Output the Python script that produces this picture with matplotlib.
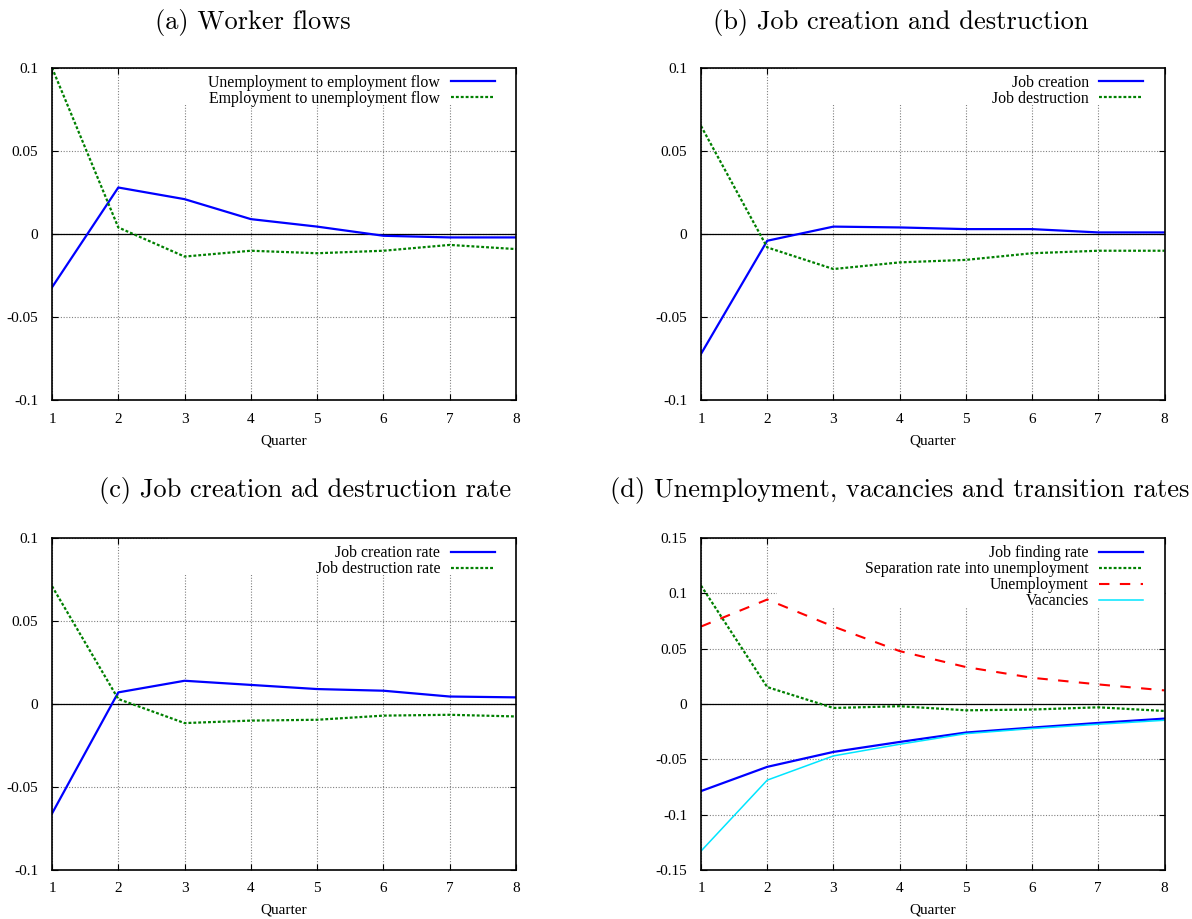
"""Impulse responses of labour-market flows, four panels in gnuplot style."""

import matplotlib

matplotlib.use("Agg")
import matplotlib.pyplot as plt
from matplotlib.patches import Rectangle
from matplotlib.ticker import FuncFormatter

plt.rcParams["axes.unicode_minus"] = False
plt.rcParams["font.family"] = "Liberation Serif"

quarters = [1, 2, 3, 4, 5, 6, 7, 8]

# (a) worker flows
ue_flow = [-0.032, 0.028, 0.021, 0.009, 0.0045, -0.001, -0.002, -0.002]
eu_flow = [0.100, 0.004, -0.0135, -0.010, -0.0115, -0.010, -0.0065, -0.009]

# (b) job creation and destruction
job_creation = [-0.072, -0.004, 0.0045, 0.004, 0.003, 0.003, 0.001, 0.001]
job_destruction = [0.065, -0.008, -0.021, -0.017, -0.0155, -0.0115, -0.010, -0.010]

# (c) job creation and destruction rates
jc_rate = [-0.066, 0.007, 0.014, 0.0115, 0.009, 0.008, 0.0045, 0.004]
jd_rate = [0.071, 0.003, -0.0115, -0.010, -0.0095, -0.007, -0.0065, -0.0075]

# (d) unemployment, vacancies and transition rates
finding_rate = [-0.0787, -0.0568, -0.0433, -0.0343, -0.0258, -0.0213, -0.0171, -0.0132]
separation_rate = [0.107, 0.0153, -0.0036, -0.002, -0.0057, -0.005, -0.003, -0.0063]
unemployment = [0.070, 0.0944, 0.070, 0.0478, 0.0334, 0.0237, 0.0177, 0.0123]
vacancies = [-0.1329, -0.0688, -0.0469, -0.0364, -0.0268, -0.0222, -0.0183, -0.0147]

yticks_small = [-0.1, -0.05, 0, 0.05, 0.1]
yticks_large = [-0.15, -0.1, -0.05, 0, 0.05, 0.1, 0.15]

BLUE = dict(color="#0000ff", linewidth=1.6, linestyle="-")
GREEN = dict(color="#008000", linewidth=1.6, linestyle=(0, (1.3, 0.9)))
RED = dict(color="#ff0000", linewidth=1.5, linestyle=(0, (5, 5)))
CYAN = dict(color="#00e5ff", linewidth=1.1, linestyle="-")

W, H = 1192, 919
fig = plt.figure(figsize=(W / 100, H / 100), dpi=100)


def make_axes(x0, y0, x1, y1):
    return fig.add_axes([x0 / W, 1 - y1 / H, (x1 - x0) / W, (y1 - y0) / H])


def panel(ax, series, yticks, key_left, key_bottom):
    ax.set_xlim(1, 8)
    ax.set_ylim(yticks[0], yticks[-1])
    ax.set_xticks(quarters)
    ax.set_yticks(yticks)
    ax.yaxis.set_major_formatter(FuncFormatter(lambda v, _: f"{v:g}"))
    ax.tick_params(direction="in", length=4, width=0.8, top=True, right=True,
                   labelsize=11, pad=9)
    ax.tick_params(axis="y", pad=10)
    ax.set_axisbelow(True)
    ax.grid(True, color="#808080", linestyle=(0, (1, 1.5)), linewidth=0.8)
    ax.axhline(0, color="black", linewidth=0.9, zorder=1.5)
    for s in ax.spines.values():
        s.set_linewidth(1.2)
    # opaque key box, as gnuplot draws it over the grid
    ax.add_patch(Rectangle((key_left, key_bottom), 1 - key_left, 1 - key_bottom,
                           transform=ax.transAxes, facecolor="white",
                           edgecolor="none", zorder=1))
    for y, label, style in series:
        ax.plot(quarters, y, label=label, zorder=2, **style)
    ax.legend(loc="upper right", bbox_to_anchor=(1 - 14 / 464, 1.0),
              borderaxespad=0, frameon=False, markerfirst=False,
              fontsize=11.4, handlelength=2.8, handletextpad=0.65,
              labelspacing=0.0, borderpad=0.45)
    ax.set_xlabel("Quarter", fontsize=11, labelpad=6)


ax_a = make_axes(52, 67.7, 516, 400.5)
ax_b = make_axes(701, 67.7, 1164.5, 400.5)
ax_c = make_axes(52, 538, 516, 870)
ax_d = make_axes(701, 538, 1164.5, 870)

panel(ax_a, [(ue_flow, "Unemployment to employment flow", BLUE),
             (eu_flow, "Employment to unemployment flow", GREEN)],
      yticks_small, 0.25, 0.888)
panel(ax_b, [(job_creation, "Job creation", BLUE),
             (job_destruction, "Job destruction", GREEN)],
      yticks_small, 0.21, 0.888)
panel(ax_c, [(jc_rate, "Job creation rate", BLUE),
             (jd_rate, "Job destruction rate", GREEN)],
      yticks_small, 0.25, 0.888)
panel(ax_d, [(finding_rate, "Job finding rate", BLUE),
             (separation_rate, "Separation rate into unemployment", GREEN),
             (unemployment, "Unemployment", RED),
             (vacancies, "Vacancies", CYAN)],
      yticks_large, 0.165, 0.789)

title_kw = dict(fontfamily="cmr10", fontsize=19, ha="center", va="center")
fig.text(253 / W, 1 - 22 / H, "(a) Worker flows", **title_kw)
fig.text(901 / W, 1 - 22 / H, "(b) Job creation and destruction", **title_kw)
fig.text(305 / W, 1 - 490 / H, "(c) Job creation ad destruction rate", **title_kw)
fig.text(900 / W, 1 - 490 / H, "(d) Unemployment, vacancies and transition rates",
         **title_kw)

fig.savefig("out.png", dpi=100)
